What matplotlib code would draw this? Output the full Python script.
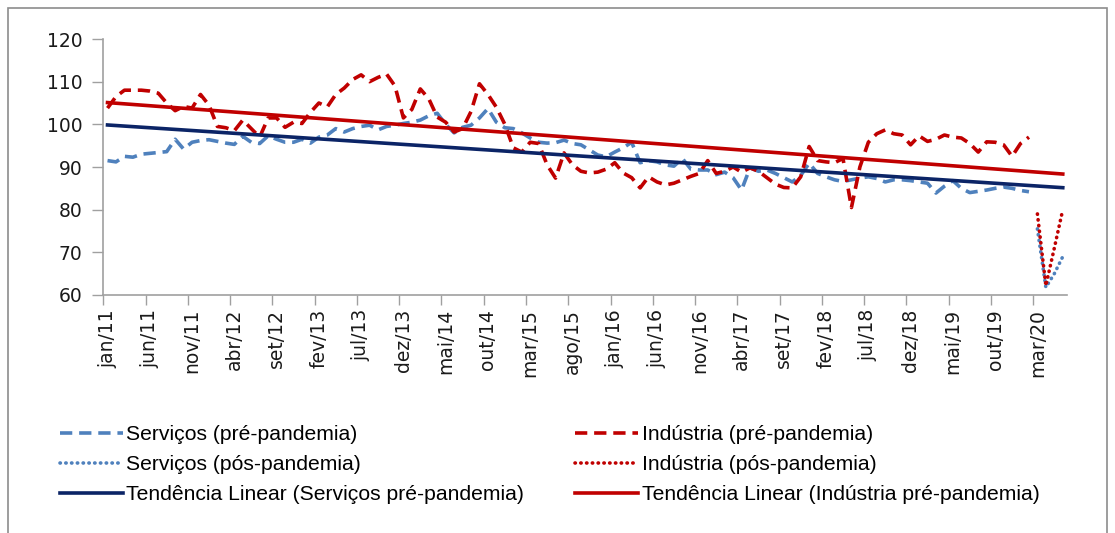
import numpy as np
import matplotlib
matplotlib.use('Agg')
import matplotlib.pyplot as plt
from matplotlib import font_manager
from matplotlib.patches import Rectangle

# %% data
tick_labels = ['jan/11', 'jun/11', 'nov/11', 'abr/12', 'set/12', 'fev/13', 'jul/13',
               'dez/13', 'mai/14', 'out/14', 'mar/15', 'ago/15', 'jan/16', 'jun/16',
               'nov/16', 'abr/17', 'set/17', 'fev/18', 'jul/18', 'dez/18', 'mai/19',
               'out/19', 'mar/20']
n_months = 114  # jan/11 .. jun/20

serv_pre = [91.5, 91.2, 92.5, 92.3, 93.0, 93.2, 93.4, 93.6, 96.5, 94.2,
            95.8, 96.2, 96.4, 96.0, 95.6, 95.3, 97.2, 95.8, 95.5, 97.3,
            96.5, 95.8, 95.8, 96.5, 95.6, 97.0, 97.5, 99.0, 98.2, 99.0,
            99.5, 99.8, 98.7, 99.5, 99.8, 100.2, 100.5, 101.0, 102.0, 102.6,
            100.0, 98.0, 99.3, 99.8, 101.5, 103.7, 100.5, 99.2, 99.0, 98.0,
            96.8, 95.8, 95.6, 95.7, 96.3, 95.5, 95.2, 94.0, 92.8, 92.4,
            93.5, 94.5, 95.8, 91.0, 91.5, 91.2, 90.5, 90.2, 92.0, 89.5,
            89.3, 89.3, 88.2, 88.8, 87.5, 84.6, 89.8, 89.0, 89.3, 88.5,
            87.5, 86.5, 88.0, 90.9, 88.5, 87.7, 87.0, 86.6, 87.0, 87.4,
            87.7, 87.3, 86.5, 87.0, 87.0, 86.8, 86.5, 86.2, 83.9, 85.5,
            86.8, 85.0, 84.0, 84.3, 84.6, 85.0, 85.3, 85.0, 84.5, 84.2]

ind_pre = [103.8, 106.5, 108.0, 108.0, 108.0, 107.8, 107.3, 105.0, 103.2, 104.2,
           103.8, 107.0, 104.5, 99.5, 99.2, 98.5, 101.0, 99.0, 97.0, 101.5,
           101.5, 99.3, 100.5, 100.2, 102.8, 105.0, 104.1, 107.0, 108.5, 110.5,
           111.6, 110.0, 111.0, 111.8, 109.0, 101.5, 103.5, 108.3, 106.0, 101.7,
           100.5, 98.2, 99.0, 103.0, 109.5, 107.0, 104.0, 100.0, 94.5, 93.5,
           95.8, 95.5, 90.5, 87.4, 93.3, 90.5, 89.0, 88.6, 88.8, 89.5,
           91.0, 88.6, 87.5, 85.1, 87.7, 86.5, 85.8, 86.2, 87.0, 87.8,
           88.5, 91.5, 88.5, 89.0, 90.0, 88.8, 89.8, 89.0, 87.5, 86.0,
           85.2, 85.1, 87.7, 94.8, 91.5, 91.2, 91.0, 92.0, 80.5, 90.0,
           95.8, 97.8, 98.7, 97.8, 97.5, 95.2, 97.3, 96.0, 96.5, 97.5,
           97.0, 96.8, 95.5, 93.5, 95.9, 95.8, 95.2, 92.5, 95.5, 97.0]

# mar/20 .. jun/20
serv_pos = [75.5, 61.8, 65.0, 69.0]
ind_pos = [79.0, 62.2, 71.0, 80.0]

# linear trend, value at jan/11 and at jun/20
serv_trend = [99.85, 85.15]
ind_trend = [105.1, 88.35]

# %% plot
c_serv = '#4F81BD'
c_ind = '#C00000'
c_serv_tr = '#0B2466'
c_ind_tr = '#C00000'

names = {f.name for f in font_manager.fontManager.ttflist}
if 'Liberation Sans Narrow' in names:
    leg_font, leg_size = 'Liberation Sans Narrow', 16
elif 'Liberation Sans' in names:
    leg_font, leg_size = 'Liberation Sans', 15.2
else:
    leg_font, leg_size = 'DejaVu Sans', 13.3

fig = plt.figure(figsize=(11.15, 5.33), dpi=100)
ax = fig.add_axes([103.3 / 1115, 1 - 295 / 533, (1067 - 103.3) / 1115, (295 - 39) / 533])

x_pre = np.arange(len(serv_pre))
x_pos = np.arange(110, 110 + len(serv_pos))
x_tr = [0, n_months - 1]

l1, = ax.plot(x_pre, serv_pre, color=c_serv, lw=2.6, dashes=(3.4, 1.9),
              label='Serviços (pré-pandemia)')
l4, = ax.plot(x_pre, ind_pre, color=c_ind, lw=2.6, dashes=(3.4, 1.9),
              label='Indústria (pré-pandemia)')
l2, = ax.plot(x_pos, serv_pos, color=c_serv, lw=2.6, dashes=(0.1, 1.5),
              dash_capstyle='round', label='Serviços (pós-pandemia)')
l5, = ax.plot(x_pos, ind_pos, color=c_ind, lw=2.6, dashes=(0.1, 1.5),
              dash_capstyle='round', label='Indústria (pós-pandemia)')
l3, = ax.plot(x_tr, serv_trend, color=c_serv_tr, lw=2.6,
              label='Tendência Linear (Serviços pré-pandemia)')
l6, = ax.plot(x_tr, ind_trend, color=c_ind_tr, lw=2.6,
              label='Tendência Linear (Indústria pré-pandemia)')

ax.set_xlim(-0.5, n_months - 0.5)
ax.set_ylim(60, 120)
ax.set_yticks(np.arange(60, 121, 10))

# tick marks on category borders, labels on category centres
ax.set_xticks(np.arange(-0.5, n_months, 5))
ax.set_xticklabels([])
ax.set_xticks(np.arange(0, 5 * len(tick_labels), 5), minor=True)
ax.set_xticklabels(tick_labels, minor=True, rotation=90, fontsize=13.5, color='#1a1a1a')
ax.tick_params(axis='x', which='major', length=7, width=1, color='#a0a0a0')
ax.tick_params(axis='x', which='minor', length=0, pad=10)
ax.tick_params(axis='y', length=8, width=1, color='#a0a0a0', labelsize=13.5,
               labelcolor='#1a1a1a', pad=7)

for s in ['top', 'right']:
    ax.spines[s].set_visible(False)
for s in ['left', 'bottom']:
    ax.spines[s].set_color('#a0a0a0')
    ax.spines[s].set_linewidth(1.2)

# legend, two columns
lg_kw = dict(loc='upper left', frameon=False, borderpad=0, borderaxespad=0,
             handlelength=3.0, handletextpad=0.15, labelspacing=0.53,
             prop={'family': leg_font, 'size': leg_size})
fig.legend(handles=[l1, l2, l3], bbox_to_anchor=(60 / 1115, 1 - 425 / 533), **lg_kw)
fig.legend(handles=[l4, l5, l6], bbox_to_anchor=(575 / 1115, 1 - 425 / 533), **lg_kw)

# outer frame
fig.patches.append(Rectangle((8 / 1115, -0.02), (1107 - 8) / 1115, 1.02 - 8 / 533,
                             transform=fig.transFigure, fill=False,
                             edgecolor='#8c8c8c', lw=1.2))

fig.savefig('out.png', dpi=100)
